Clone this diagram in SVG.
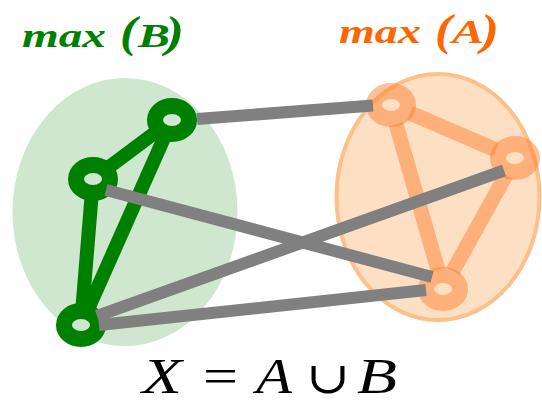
<svg xmlns="http://www.w3.org/2000/svg" width="542" height="401" viewBox="0 0 542 401">
<style>
.gedge{stroke:#008000;stroke-width:14;stroke-linecap:butt;fill:none}
.gnode{stroke:#008000;stroke-width:16;fill:#cfe6cf}
.oedge{stroke:#ff8030;stroke-opacity:0.5;stroke-width:15;fill:none}
.onode{stroke:#ff8030;stroke-opacity:0.5;stroke-width:16;fill:none}
.link{stroke:#808080;stroke-width:12;stroke-linecap:butt}
.title{font-family:"Liberation Serif","Times New Roman",serif;font-weight:bold;font-style:italic;font-size:33px}
.par{font-size:44px}
.eq{font-family:"Liberation Serif","Times New Roman",serif;font-size:50px;fill:#000000}
</style>
<rect width="542" height="401" fill="#ffffff"/>
<g id="setB">
<ellipse cx="125" cy="212" rx="112.5" ry="134" fill="#cfe6cf"/>
</g>
<g id="setA">
<ellipse cx="438" cy="197" rx="101.5" ry="123" fill="#fde0c4" stroke="#fdc08a" stroke-width="4"/>
</g>
<g id="labelB" class="title" fill="#008000">
<text x="22" y="47" textLength="84" lengthAdjust="spacingAndGlyphs">max</text>
<text class="par" x="120" y="47" textLength="17" lengthAdjust="spacingAndGlyphs">(</text>
<text x="138" y="47" textLength="32" lengthAdjust="spacingAndGlyphs">B</text>
<text class="par" x="166" y="47" textLength="18" lengthAdjust="spacingAndGlyphs">)</text>
</g>
<g id="labelA" class="title" fill="#ff6600">
<text x="339" y="43" textLength="82" lengthAdjust="spacingAndGlyphs">max</text>
<text class="par" x="435" y="45" textLength="17" lengthAdjust="spacingAndGlyphs">(</text>
<text x="452" y="43" textLength="32" lengthAdjust="spacingAndGlyphs">A</text>
<text class="par" x="481" y="45" textLength="18" lengthAdjust="spacingAndGlyphs">)</text>
</g>
<g id="edgesB">
<line class="gedge" x1="172" y1="120" x2="93" y2="179"/>
<line class="gedge" x1="172" y1="120" x2="81" y2="325"/>
<line class="gedge" x1="93" y1="179" x2="81" y2="325"/>
</g>
<g id="b1"><ellipse class="gnode" cx="172" cy="120" rx="17" ry="14"/></g>
<g id="b2"><ellipse class="gnode" cx="93" cy="179" rx="17" ry="14"/></g>
<g id="b3"><ellipse class="gnode" cx="81" cy="325" rx="17" ry="14"/></g>
<g id="edgesA">
<line class="oedge" x1="410" y1="113" x2="496" y2="150"/>
<line class="oedge" x1="396" y1="124" x2="438" y2="270"/>
<line class="oedge" x1="506" y1="175" x2="453" y2="271"/>
</g>
<g id="a1"><ellipse class="onode" cx="391" cy="105" rx="17" ry="14"/></g>
<g id="a2"><ellipse class="onode" cx="515" cy="158" rx="17" ry="14"/></g>
<g id="a3"><ellipse class="onode" cx="443" cy="289" rx="17" ry="14"/></g>
<g id="connectors">
<line class="link" x1="197" y1="119" x2="373" y2="105.5"/>
<line class="link" x1="106" y1="190" x2="432" y2="277"/>
<line class="link" x1="97" y1="316" x2="504" y2="170.5"/>
<line class="link" x1="99" y1="325" x2="426" y2="290"/>
</g>
<g id="equation">
<text class="eq" x="142" y="393" font-style="italic" textLength="40" lengthAdjust="spacingAndGlyphs">X</text>
<text class="eq" x="203" y="393" textLength="35" lengthAdjust="spacingAndGlyphs">=</text>
<text class="eq" x="256" y="393" font-style="italic" textLength="36" lengthAdjust="spacingAndGlyphs">A</text>
<text class="eq" x="306" y="393" style="font-family:'DejaVu Serif',serif;font-size:44px" textLength="44" lengthAdjust="spacingAndGlyphs">∪</text>
<text class="eq" x="357" y="393" font-style="italic" textLength="40" lengthAdjust="spacingAndGlyphs">B</text>
</g>
</svg>
